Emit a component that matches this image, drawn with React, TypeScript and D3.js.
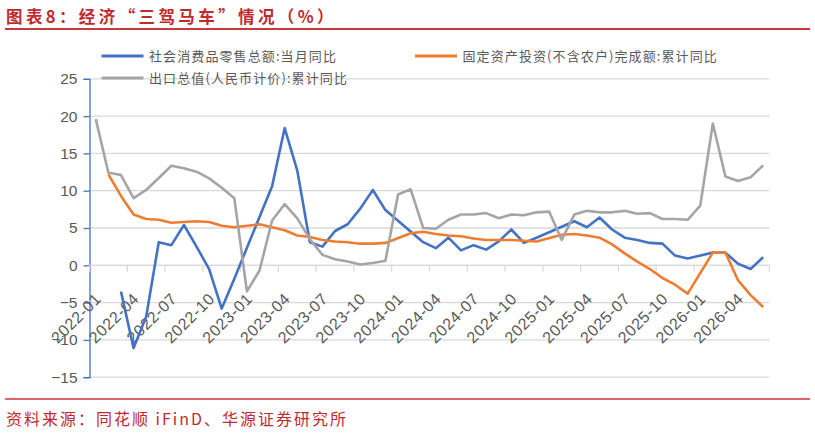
import React, { useEffect, useRef } from 'react';
import * as d3 from 'd3';

// month categories, 2022-01 .. 2026-06
const months = [
    '2022-01', '2022-02', '2022-03', '2022-04', '2022-05', '2022-06', '2022-07', '2022-08', '2022-09', '2022-10', '2022-11', '2022-12',
    '2023-01', '2023-02', '2023-03', '2023-04', '2023-05', '2023-06', '2023-07', '2023-08', '2023-09', '2023-10', '2023-11', '2023-12',
    '2024-01', '2024-02', '2024-03', '2024-04', '2024-05', '2024-06', '2024-07', '2024-08', '2024-09', '2024-10', '2024-11', '2024-12',
    '2025-01', '2025-02', '2025-03', '2025-04', '2025-05', '2025-06', '2025-07', '2025-08', '2025-09', '2025-10', '2025-11', '2025-12',
    '2026-01', '2026-02', '2026-03', '2026-04', '2026-05', '2026-06',
];

// 社会消费品零售总额:当月同比
const retail: (number | null)[] = [
    null, null, -3.5, -11.1, -6.9, 3.1, 2.7, 5.4, 2.5, -0.5, -5.8, -1.8,
    null, null, 10.6, 18.4, 12.7, 3.1, 2.5, 4.6, 5.5, 7.6, 10.1, 7.4,
    null, null, 3.1, 2.3, 3.7, 2.0, 2.7, 2.1, 3.2, 4.8, 3.0, 3.7,
    null, null, 5.9, 5.1, 6.4, 4.8, 3.7, 3.4, 3.0, 2.9, 1.3, 0.9,
    null, 1.7, 1.7, 0.2, -0.5, 1.1,
];

// 固定资产投资(不含农户)完成额:累计同比
const fai: (number | null)[] = [
    null, 12.2, 9.3, 6.8, 6.2, 6.1, 5.7, 5.8, 5.9, 5.8, 5.3, 5.1,
    null, 5.5, 5.1, 4.7, 4.0, 3.8, 3.4, 3.2, 3.1, 2.9, 2.9, 3.0,
    null, 4.3, 4.5, 4.2, 4.0, 3.9, 3.6, 3.4, 3.4, 3.4, 3.3, 3.2,
    null, 4.1, 4.2, 4.0, 3.7, 2.8, 1.6, 0.5, -0.5, -1.7, -2.6, -3.8,
    null, 1.7, 1.7, -2.0, -4.0, -5.6,
];

// 出口总值(人民币计价):累计同比
const exports: (number | null)[] = [
    19.6, 12.4, 12.1, 9.0, 10.1, 11.7, 13.35, 13.0, 12.55, 11.65, 10.4, 9.0,
    -3.5, -0.7, 6.0, 8.2, 6.3, 3.5, 1.4, 0.8, 0.5, 0.1, 0.3, 0.6,
    9.5, 10.2, 5.0, 4.9, 6.1, 6.8, 6.8, 7.0, 6.3, 6.8, 6.7, 7.1,
    7.2, 3.4, 6.8, 7.3, 7.1, 7.1, 7.3, 6.9, 7.0, 6.2, 6.2, 6.1,
    8.0, 19.0, 11.9, 11.3, 11.8, 13.4,
];

const yTicks = [-15, -10, -5, 0, 5, 10, 15, 20, 25];

const series = [
    { name: '社会消费品零售总额:当月同比', values: retail, color: '#4472C4', lx: 101.5, ly: 56 },
    { name: '固定资产投资(不含农户)完成额:累计同比', values: fai, color: '#ED7D31', lx: 415, ly: 56 },
    { name: '出口总值(人民币计价):累计同比', values: exports, color: '#A5A5A5', lx: 101.5, ly: 78 },
];

const title = '图表8：经济“三驾马车”情况（%）';
const source = '资料来源：同花顺 iFinD、华源证券研究所';

export default function App() {
    const svgRef = useRef<SVGSVGElement>(null);

    useEffect(() => {
        if (!svgRef.current) return;
        const width = 815;
        const height = 433;
        const left = 89.5, right = 769.5, top = 78.8, bottom = 377.2;
        const red = '#BF2A2F';
        const textGray = '#595959';
        const numFont = '"Liberation Sans", Arial, sans-serif';
        const cjkFont = '"Noto Sans CJK SC", sans-serif';

        d3.select(svgRef.current).selectAll('*').remove();
        const svg = d3.select(svgRef.current)
            .attr('width', width)
            .attr('height', height);

        svg.append('rect').attr('width', width).attr('height', height).attr('fill', '#fff');

        // header + footer
        svg.append('text')
            .attr('x', 6).attr('y', 22.5)
            .attr('fill', red)
            .style('font-family', cjkFont)
            .style('font-weight', 700)
            .style('font-size', '16.5px')
            .style('letter-spacing', '3.4px')
            .text(title);
        svg.append('line')
            .attr('x1', 5).attr('x2', 810).attr('y1', 29).attr('y2', 29)
            .attr('stroke', '#C8393B').attr('stroke-width', 2);
        svg.append('line')
            .attr('x1', 5).attr('x2', 810).attr('y1', 399).attr('y2', 399)
            .attr('stroke', '#C8393B').attr('stroke-width', 1.6);
        svg.append('text')
            .attr('x', 6).attr('y', 424.5)
            .attr('fill', red)
            .style('font-family', cjkFont)
            .style('font-size', '16px')
            .style('letter-spacing', '2px')
            .text(source);

        const x = d3.scaleBand<string>()
            .domain(months)
            .range([left, right])
            .paddingInner(0)
            .paddingOuter(0);
        const bw = x.bandwidth();
        const cx = (m: string) => (x(m) as number) + bw / 2;

        const y = d3.scaleLinear()
            .domain([-15, 25])
            .range([bottom, top]);

        // gridlines
        svg.append('g')
            .selectAll('line')
            .data(yTicks)
            .join('line')
            .attr('x1', left).attr('x2', right)
            .attr('y1', d => y(d)).attr('y2', d => y(d))
            .attr('stroke', '#D9D9D9')
            .attr('stroke-width', 1.3);

        // y axis
        const yAxis = d3.axisLeft(y)
            .tickValues(yTicks)
            .tickSize(6)
            .tickPadding(6);
        svg.append('g')
            .attr('transform', `translate(${left},0)`)
            .call(yAxis)
            .call(g => g.select('.domain').attr('stroke', '#4472C4').attr('stroke-width', 1.3))
            .call(g => g.selectAll('.tick line').attr('stroke', '#4472C4').attr('stroke-width', 1.3))
            .selectAll('text')
            .attr('fill', textGray)
            .style('font-family', numFont)
            .style('font-size', '15.5px');

        // x axis at zero
        const y0 = y(0);
        svg.append('line')
            .attr('x1', left).attr('x2', right).attr('y1', y0).attr('y2', y0)
            .attr('stroke', '#D9D9D9').attr('stroke-width', 1.3);
        const boundaries = d3.range(0, months.length + 1, 3);
        svg.append('g')
            .selectAll('line')
            .data(boundaries)
            .join('line')
            .attr('x1', d => left + d * bw).attr('x2', d => left + d * bw)
            .attr('y1', y0).attr('y2', y0 + 6.5)
            .attr('stroke', '#D9D9D9')
            .attr('stroke-width', 1.3);

        const labelled = months.filter((_, i) => i % 3 === 0);
        svg.append('g')
            .selectAll('text')
            .data(labelled)
            .join('text')
            .attr('transform', d => `translate(${cx(d) + 6.5},${y0 + 34.5}) rotate(-45)`)
            .attr('text-anchor', 'end')
            .attr('fill', textGray)
            .style('font-family', numFont)
            .style('font-size', '16px')
            .style('letter-spacing', '0.6px')
            .text(d => d);

        // lines (gaps are bridged, as in the source chart)
        const line = d3.line<{ m: string; v: number }>()
            .x(d => cx(d.m))
            .y(d => y(d.v));

        series.forEach(s => {
            const pts = months
                .map((m, i) => ({ m, v: s.values[i] }))
                .filter(d => d.v !== null) as { m: string; v: number }[];
            svg.append('path')
                .datum(pts)
                .attr('fill', 'none')
                .attr('stroke', s.color)
                .attr('stroke-width', 2.6)
                .attr('stroke-linejoin', 'round')
                .attr('d', line);
        });

        // legend
        const legend = svg.append('g');
        series.forEach(s => {
            legend.append('line')
                .attr('x1', s.lx).attr('x2', s.lx + 42)
                .attr('y1', s.ly).attr('y2', s.ly)
                .attr('stroke', s.color)
                .attr('stroke-width', 3);
            legend.append('text')
                .attr('x', s.lx + 47.5).attr('y', s.ly + 4.8)
                .attr('fill', textGray)
                .style('font-family', cjkFont)
                .style('font-size', '13px')
                .style('letter-spacing', '1.1px')
                .text(s.name);
        });
    }, []);

    return (
        <svg ref={svgRef} style={{ position: 'absolute', left: 0, top: 0 }}></svg>
    );
}
